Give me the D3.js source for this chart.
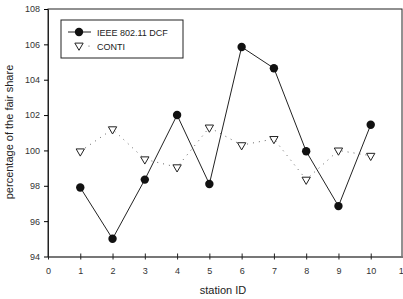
<!DOCTYPE html>
<html><head><meta charset="utf-8">
<script src="https://cdn.jsdelivr.net/npm/d3@7"></script>
<style>body{margin:0;background:#fff}svg{display:block}text{font-family:"Liberation Sans",Arial,sans-serif}</style>
</head><body><svg id="c" width="403" height="299"></svg>
<script>
const stations = [1,2,3,4,5,6,7,8,9,10];
const dcf = [97.9, 95.0, 98.35, 102.0, 98.1, 105.85, 104.65, 99.95, 96.85, 101.45];
const conti = [99.95, 101.2, 99.5, 99.05, 101.3, 100.3, 100.65, 98.35, 100.0, 99.7];
const xTicks = [0,1,2,3,4,5,6,7,8,9,10,11];
const yTicks = [94,96,98,100,102,104,106,108];
const seriesNames = ["IEEE 802.11 DCF", "CONTI"];

const svg = d3.select("#c");
const x = d3.scaleLinear().domain([0,11]).range([48, 403]);
const y = d3.scaleLinear().domain([94,108]).range([256.5, 9]);

svg.append("rect").attr("x",48).attr("y",9).attr("width",354).attr("height",247.5)
  .attr("fill","none").attr("stroke","#222").attr("stroke-width",1);

const xa = svg.append("g").attr("transform","translate(0,256.5)")
  .call(d3.axisBottom(x).tickValues(xTicks).tickSize(4).tickSizeOuter(0).tickPadding(7));
xa.select(".domain").attr("stroke","#777").attr("stroke-width",2);
xa.selectAll(".tick line").attr("y1",-3).attr("y2",3).attr("stroke","#222");
xa.selectAll("text").attr("font-size",9).attr("fill","#333");

const ya = svg.append("g").attr("transform","translate(48,0)")
  .call(d3.axisLeft(y).tickValues(yTicks).tickSize(4).tickSizeOuter(0).tickPadding(4));
ya.select(".domain").attr("stroke","#222");
ya.selectAll("text").attr("font-size",9).attr("fill","#333");

svg.append("text").attr("x",223).attr("y",294).attr("text-anchor","middle")
  .attr("font-size",11).attr("fill","#222").text("station ID");
svg.append("text").attr("transform","translate(13,132) rotate(-90)").attr("text-anchor","middle")
  .attr("font-size",11).attr("fill","#222").text("percentage of the fair share");

const lineC = d3.line().x((d,i)=>x(stations[i])).y(d=>y(d));
svg.append("path").attr("d",lineC(conti)).attr("fill","none")
  .attr("stroke","#666").attr("stroke-width",1).attr("stroke-dasharray","1,5");

svg.append("path").attr("d",lineC(dcf)).attr("fill","none")
  .attr("stroke","#222").attr("stroke-width",1);

const tri = d3.symbol().type(d3.symbolTriangle).size(30);
svg.selectAll(".tc").data(conti).enter().append("path")
  .attr("d",tri).attr("transform",(d,i)=>`translate(${x(stations[i])},${y(d)}) rotate(180)`)
  .attr("fill","#fff").attr("stroke","#222").attr("stroke-width",1);

svg.selectAll(".cd").data(dcf).enter().append("circle")
  .attr("cx",(d,i)=>x(stations[i])).attr("cy",d=>y(d)).attr("r",4.2).attr("fill","#111");

const lg = svg.append("g");
lg.append("rect").attr("x",61).attr("y",20).attr("width",122).attr("height",38)
  .attr("fill","#fff").attr("stroke","#222");
lg.append("line").attr("x1",68).attr("x2",91).attr("y1",32).attr("y2",32).attr("stroke","#222");
lg.append("circle").attr("cx",79).attr("cy",32).attr("r",4.2).attr("fill","#111");
lg.append("text").attr("x",97).attr("y",35.5).attr("font-size",9).attr("fill","#222").text(seriesNames[0]);
lg.append("path").attr("d",tri).attr("transform","translate(79,45.5) rotate(180)")
  .attr("fill","#fff").attr("stroke","#222");
lg.append("circle").attr("cx",89).attr("cy",46).attr("r",0.6).attr("fill","#555");
lg.append("text").attr("x",97).attr("y",49.5).attr("font-size",9).attr("fill","#222").text(seriesNames[1]);
</script></body></html>
